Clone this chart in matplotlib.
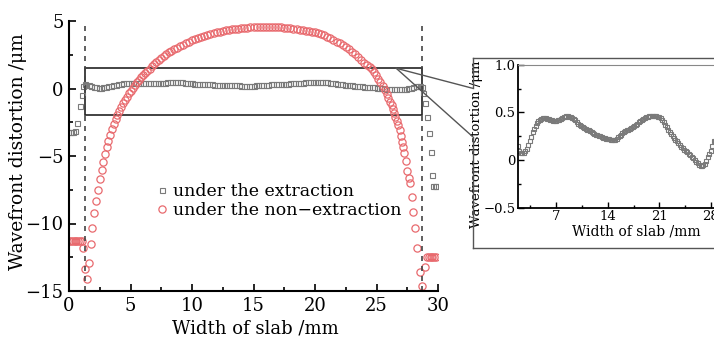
import matplotlib
matplotlib.use("Agg")
import matplotlib.pyplot as plt
from matplotlib.patches import Rectangle, ConnectionPatch
from matplotlib.lines import Line2D
from matplotlib.ticker import MultipleLocator, FixedLocator

plt.rcParams['font.family'] = ['DejaVu Serif']

# non-extraction (red circles)
red_x = [0.0, 0.15, 0.3, 0.45, 0.6, 0.75, 0.9, 1.03, 1.16, 1.3, 1.44, 1.6, 1.76, 1.9,
         2.06, 2.22, 2.37, 2.52, 2.66, 2.8, 2.93, 3.06, 3.2, 3.34, 3.48, 3.64, 3.79, 3.94,
         4.09, 4.25, 4.41, 4.57, 4.73, 4.89, 5.05, 5.21, 5.37, 5.53, 5.7, 5.87, 6.04, 6.21,
         6.38, 6.55, 6.73, 6.91, 7.1, 7.3, 7.5, 7.7, 7.9, 8.1, 8.3, 8.5, 8.75, 9.0, 9.25,
         9.5, 9.75, 10.0, 10.25, 10.5, 10.75, 11.0, 11.25, 11.5, 11.75, 12.0, 12.25, 12.5,
         12.75, 13.0, 13.25, 13.5, 13.75, 14.0, 14.25, 14.5, 14.75, 15.0, 15.25, 15.5,
         15.75, 16.0, 16.25, 16.5, 16.75, 17.0, 17.25, 17.5, 17.75, 18.0, 18.25, 18.5,
         18.75, 19.0, 19.25, 19.5, 19.75, 20.0, 20.25, 20.5, 20.75, 21.0, 21.25, 21.5,
         21.75, 22.0, 22.25, 22.5, 22.75, 23.0, 23.25, 23.5, 23.75, 24.0, 24.25, 24.5,
         24.65, 24.8, 24.96, 25.15, 25.3, 25.5, 25.67, 25.83, 25.96, 26.1, 26.22, 26.33,
         26.43, 26.53, 26.64, 26.76, 26.87, 26.97, 27.07, 27.17, 27.27, 27.38, 27.5,
         27.61, 27.72, 27.86, 27.99, 28.13, 28.27, 28.5, 28.7, 28.94, 29.08, 29.25, 29.4,
         29.55, 29.7, 29.85]
red_y = [-11.27, -11.27, -11.27, -11.27, -11.27, -11.27, -11.27, -11.27, -11.84, -13.4,
         -14.1, -12.95, -11.5, -10.36, -9.25, -8.33, -7.5, -6.7, -6.04, -5.42, -4.88,
         -4.36, -3.89, -3.44, -3.02, -2.65, -2.28, -1.96, -1.66, -1.38, -1.1, -0.84, -0.6,
         -0.37, -0.15, 0.06, 0.26, 0.45, 0.64, 0.82, 0.99, 1.16, 1.32, 1.47, 1.65, 1.82,
         1.98, 2.14, 2.29, 2.43, 2.56, 2.68, 2.79, 2.9, 3.02, 3.14, 3.25, 3.36, 3.46, 3.56,
         3.65, 3.74, 3.82, 3.9, 3.97, 4.04, 4.1, 4.16, 4.21, 4.26, 4.3, 4.34, 4.38, 4.41,
         4.44, 4.47, 4.49, 4.51, 4.53, 4.55, 4.56, 4.57, 4.58, 4.58, 4.58, 4.57, 4.56,
         4.55, 4.53, 4.51, 4.49, 4.46, 4.43, 4.4, 4.37, 4.33, 4.29, 4.25, 4.2, 4.16, 4.12,
         4.03, 3.93, 3.83, 3.72, 3.6, 3.48, 3.35, 3.21, 3.06, 2.9, 2.72, 2.53, 2.33, 2.12,
         1.92, 1.73, 1.56, 1.42, 1.24, 1.0, 0.72, 0.46, 0.17, -0.11, -0.41, -0.68, -0.98,
         -1.25, -1.54, -1.84, -2.1, -2.38, -2.7, -3.07, -3.5, -3.94, -4.36, -4.8, -5.37,
         -6.1, -6.6, -7.02, -8.0, -9.12, -10.36, -11.84, -13.6, -14.6, -13.2, -12.45,
         -12.45, -12.45, -12.45, -12.45, -12.45]

# extraction (gray squares)
gray_x = [0.05, 0.2, 0.35, 0.5, 0.62, 0.88, 1.03, 1.16, 1.28,
          1.4, 1.6, 1.8, 2.0, 2.2, 2.4, 2.6, 2.8, 3.0, 3.2, 3.4, 3.6, 3.8, 4.0, 4.2, 4.4,
          4.6, 4.8, 5.0, 5.2, 5.4, 5.6, 5.8, 6.0, 6.2, 6.4, 6.6, 6.8, 7.0, 7.2, 7.4, 7.6,
          7.8, 8.0, 8.2, 8.4, 8.6, 8.8, 9.0, 9.2, 9.4, 9.6, 9.8, 10.0, 10.2, 10.4, 10.6,
          10.8, 11.0, 11.2, 11.4, 11.6, 11.8, 12.0, 12.2, 12.4, 12.6, 12.8, 13.0, 13.2,
          13.4, 13.6, 13.8, 14.0, 14.2, 14.4, 14.6, 14.8, 15.0, 15.2, 15.4, 15.6, 15.8,
          16.0, 16.2, 16.4, 16.6, 16.8, 17.0, 17.2, 17.4, 17.6, 17.8, 18.0, 18.2, 18.4,
          18.6, 18.8, 19.0, 19.2, 19.4, 19.6, 19.8, 20.0, 20.2, 20.4, 20.6, 20.8, 21.0,
          21.2, 21.4, 21.6, 21.8, 22.0, 22.2, 22.4, 22.6, 22.8, 23.0, 23.2, 23.4, 23.6,
          23.8, 24.0, 24.2, 24.4, 24.6, 24.8, 25.0, 25.2, 25.4, 25.6, 25.8, 26.0, 26.2,
          26.4, 26.6, 26.8, 27.0, 27.2, 27.4, 27.6, 27.8, 28.0, 28.2, 28.4, 28.55,
          28.68, 28.8, 28.94, 29.13, 29.27, 29.4, 29.54, 29.62, 29.72, 29.82]
gray_y = [-3.25, -3.25, -3.22, -3.15, -2.55, -1.3, -0.45, 0.15, 0.3,
          0.29, 0.23, 0.15, 0.09, 0.075, 0.07, 0.07, 0.09, 0.12, 0.16, 0.2, 0.245, 0.29,
          0.33, 0.36, 0.39, 0.41, 0.42, 0.43, 0.44, 0.44, 0.44, 0.435, 0.43, 0.42, 0.415,
          0.41, 0.41, 0.41, 0.415, 0.42, 0.43, 0.44, 0.45, 0.455, 0.46, 0.46, 0.455, 0.45,
          0.445, 0.435, 0.415, 0.395, 0.38, 0.37, 0.36, 0.345, 0.335, 0.325, 0.32, 0.31,
          0.3, 0.29, 0.28, 0.27, 0.265, 0.26, 0.255, 0.25, 0.245, 0.235, 0.23, 0.225,
          0.22, 0.22, 0.215, 0.21, 0.21, 0.215, 0.225, 0.24, 0.25, 0.265, 0.28, 0.29,
          0.305, 0.315, 0.32, 0.33, 0.34, 0.35, 0.36, 0.37, 0.38, 0.395, 0.405, 0.42, 0.43,
          0.44, 0.45, 0.455, 0.46, 0.46, 0.46, 0.46, 0.46, 0.46, 0.455, 0.45, 0.44, 0.42,
          0.395, 0.37, 0.35, 0.32, 0.295, 0.27, 0.25, 0.23, 0.215, 0.195, 0.18, 0.16,
          0.14, 0.125, 0.11, 0.095, 0.08, 0.065, 0.05, 0.035, 0.02, 0.0, -0.02, -0.035,
          -0.05, -0.06, -0.06, -0.055, -0.04, -0.01, 0.03, 0.065, 0.1, 0.15, 0.2, 0.2,
          0.1, -0.36, -1.1, -2.09, -3.32, -4.73, -6.4, -7.22, -7.22, -7.22]

edges = [1.3, 28.7]
red_c = '#e86a6e'
gray_c = '#7a7a7a'

fig = plt.figure(figsize=(7.14, 3.37), dpi=100)
W, H = 714, 337

ax = fig.add_axes([69 / W, 46 / H, 369 / W, 270 / H])
ax.plot(gray_x, gray_y, ls='none', marker='s', ms=3.6, mfc='none', mec=gray_c, mew=0.8,
        label='under the extraction')
ax.plot(red_x, red_y, ls='none', marker='o', ms=5.2, mfc='none', mec=red_c, mew=0.9,
        label='under the non\u2212extraction')
for e in edges:
    ax.axvline(e, color='#444444', ls=(0, (3, 3)), lw=1.2)
ax.add_patch(Rectangle((1.3, -1.95), 27.4, 3.45, fill=False, ec='#222222', lw=1.2))

ax.set_xlim(0, 30)
ax.set_ylim(-15, 5)
ax.xaxis.set_major_locator(MultipleLocator(5))
ax.xaxis.set_minor_locator(MultipleLocator(2.5))
ax.yaxis.set_major_locator(MultipleLocator(5))
ax.yaxis.set_minor_locator(MultipleLocator(2.5))
ax.tick_params(which='both', direction='in', width=1.2, labelsize=13, pad=4)
ax.tick_params(which='major', length=5)
ax.tick_params(which='minor', length=3)
for s in ['top', 'right']:
    ax.spines[s].set_visible(False)
for s in ['left', 'bottom']:
    ax.spines[s].set_linewidth(1.5)
ax.set_xlabel('Width of slab /mm', fontsize=13, va='center')
ax.xaxis.set_label_coords(0.504, -0.14)
ax.set_ylabel('Wavefront distortion /\u03bcm', fontsize=13.5, va='center')
ax.yaxis.set_label_coords(-0.138, 0.518)
leg = ax.legend(loc='upper left', bbox_to_anchor=(0.238, 0.4), frameon=False,
                fontsize=12.5, handlelength=0.6, handletextpad=0.35, labelspacing=0.12,
                borderpad=0, borderaxespad=0, markerscale=1.0)

# inset
ins = fig.add_axes([517.5 / W, (H - 207.7) / H, 198.5 / W, 143 / H])
ins.plot(gray_x, gray_y, ls='none', marker='s', ms=3.2, mfc='none', mec=gray_c, mew=0.8)
ins.set_xlim(1.75, 28.7)
ins.set_ylim(-0.5, 1.0)
ins.xaxis.set_major_locator(FixedLocator([7, 14, 21, 28]))
ins.xaxis.set_minor_locator(MultipleLocator(3.5))
ins.yaxis.set_major_locator(FixedLocator([-0.5, 0, 0.5, 1.0]))
ins.yaxis.set_minor_locator(MultipleLocator(0.25))
ins.set_yticklabels(['\u22120.5', '0', '0.5', '1.0'])
ins.tick_params(which='both', direction='in', width=1.0, labelsize=9.5)
ins.tick_params(axis='x', pad=1.5)
ins.tick_params(axis='y', pad=1.5)
ins.tick_params(which='major', length=4)
ins.tick_params(which='minor', length=2.5)
ins.spines['left'].set_linewidth(1.3)
ins.spines['bottom'].set_linewidth(1.3)
ins.spines['top'].set_color('#888888')
ins.spines['top'].set_linewidth(0.8)
ins.set_xlabel('Width of slab /mm', fontsize=10, va='center')
ins.xaxis.set_label_coords(0.597, -0.165)
ins.set_ylabel('Wavefront distortion /\u03bcm', fontsize=9.5, va='center')
ins.yaxis.set_label_coords(-0.207, 0.44)

# outer frame of the inset and the two connector lines
fc = '#555555'
def fx(px):
    return px / W
def fy(py):
    return 1 - py / H
frame = [((472.7, 58.3), (720, 58.3)), ((472.7, 248.3), (720, 248.3)),
         ((472.7, 58.3), (472.7, 88.3)), ((472.7, 136.7), (472.7, 248.3))]
for (x0, y0), (x1, y1) in frame:
    fig.add_artist(Line2D([fx(x0), fx(x1)], [fy(y0), fy(y1)], color=fc, lw=1.0,
                          transform=fig.transFigure))
for py in [88.3, 136.7]:
    con = ConnectionPatch(xyA=(26.6, 1.5), coordsA=ax.transData,
                          xyB=(fx(472.7), fy(py)), coordsB=fig.transFigure,
                          color=fc, lw=1.0)
    fig.add_artist(con)

fig.savefig('out.png', dpi=100)
